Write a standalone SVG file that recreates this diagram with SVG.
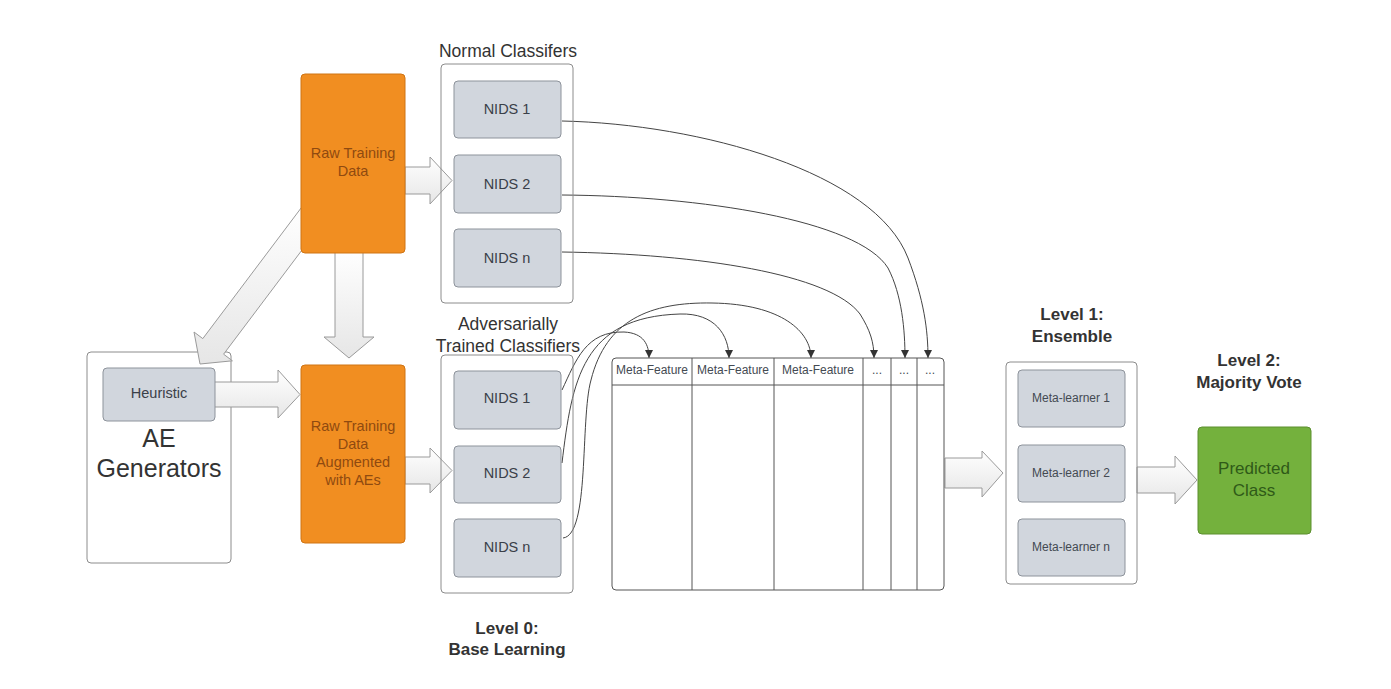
<svg xmlns="http://www.w3.org/2000/svg" width="1391" height="689" viewBox="0 0 1391 689">
<style>
text{font-family:"Liberation Sans",Arial,sans-serif;text-anchor:middle}
.cont{fill:none;stroke:#8c8c8c;stroke-width:1}
.nids{fill:#d1d6dd;stroke:#8d939b;stroke-width:1}
.nt{font-size:14.5px;fill:#3a4048}
.mt{font-size:12px;fill:#444a52}
.ttl{font-size:17.5px;fill:#333}
.lvl{font-size:17px;font-weight:bold;fill:#333}
.org{fill:#f18e21;stroke:#cf7414;stroke-width:1}
.ot{font-size:14.5px;fill:#8f4a10}
.blk{fill:url(#bg);stroke:#9a9a9a;stroke-width:1}
.cv{fill:none;stroke:#444;stroke-width:1;marker-end:url(#ah)}
.tb{fill:none;stroke:#555;stroke-width:1}
</style>
<defs>
<linearGradient id="bg" x1="0" y1="0" x2="0" y2="1">
<stop offset="0" stop-color="#ffffff"/>
<stop offset="1" stop-color="#e6e6e6"/>
</linearGradient>
<marker id="ah" viewBox="0 0 10 10" refX="10" refY="5" markerWidth="8" markerHeight="9" orient="auto" markerUnits="userSpaceOnUse">
<path d="M0,0 L10,5 L0,10 z" fill="#333"/>
</marker>
</defs>
<rect width="1391" height="689" fill="#fff"/>

<g id="ae-generators">
<rect class="cont" x="87" y="352" width="144" height="211" rx="4"/>
<text x="159" y="447" style="font-size:25px;fill:#333">AE</text>
<text x="159" y="477" style="font-size:25px;fill:#333">Generators</text>
</g>

<g id="connectors">
<polygon class="blk" points="303.8,204.4 202.8,338.6 194,332 200,364 232.4,360.8 223.6,354.2 324.6,220"/>
<polygon class="blk" points="335,250 363,250 363,337 374,337 349,358 324,337 335,337"/>
<polygon class="blk" points="405,167 430,167 430,157 452,180.5 430,204 430,194 405,194"/>
<polygon class="blk" points="213,382 278,382 278,370 300,394.5 278,418 278,407 213,407"/>
<polygon class="blk" points="405,457 430,457 430,448 452,470.5 430,493 430,484 405,484"/>
<polygon class="blk" points="945,458 982,458 982,451 1003,473 982,497 982,488 945,488"/>
<polygon class="blk" points="1137,467 1175,467 1175,456 1197,480 1175,504 1175,493 1137,493"/>
<path class="cv" d="M562,121 C700,124 875,172 908,258 C924,300 928,330 928,358"/>
<path class="cv" d="M562,195 C700,196 858,220 888,268 C902,295 905,330 905,358"/>
<path class="cv" d="M562,252 C700,254 830,274 860,314 C870,330 874,342 874,358"/>
<path class="cv" d="M562,390 C576,360 586,331 624,332 C644,333 649,345 649,358"/>
<path class="cv" d="M562,463 C572,380 582,317 680,314 C715,313 729,335 729,358"/>
<path class="cv" d="M563,538 C590,535 580,420 591,380 C606,320 650,302 712,303 C782,304 811,332 811,358"/>
</g>

<g id="heuristic">
<rect class="nids" x="103" y="368" width="112" height="53" rx="4"/>
<text class="nt" x="159" y="398">Heuristic</text>
</g>

<g id="raw-training-data">
<rect class="org" x="301" y="74" width="104" height="179" rx="4"/>
<text class="ot" x="353" y="158">Raw Training</text>
<text class="ot" x="353" y="176">Data</text>
</g>

<g id="raw-augmented">
<rect class="org" x="301" y="365" width="104" height="178" rx="4"/>
<text class="ot" x="353" y="431">Raw Training</text>
<text class="ot" x="353" y="449">Data</text>
<text class="ot" x="353" y="467">Augmented</text>
<text class="ot" x="353" y="485">with AEs</text>
</g>

<g id="normal-classifiers">
<text class="ttl" x="508" y="57">Normal Classifers</text>
<rect class="cont" x="441" y="64" width="132" height="239" rx="4"/>
<rect class="nids" x="454" y="81" width="107" height="57" rx="4"/>
<text class="nt" x="507" y="114">NIDS 1</text>
<rect class="nids" x="454" y="155" width="107" height="58" rx="4"/>
<text class="nt" x="507" y="189">NIDS 2</text>
<rect class="nids" x="454" y="229" width="107" height="58" rx="4"/>
<text class="nt" x="507" y="263">NIDS n</text>
</g>

<g id="adversarial-classifiers">
<text class="ttl" x="508" y="330">Adversarially</text>
<text class="ttl" x="508" y="352">Trained Classifiers</text>
<rect class="cont" x="441" y="355" width="132" height="238" rx="4"/>
<rect class="nids" x="454" y="371" width="107" height="58" rx="4"/>
<text class="nt" x="507" y="403">NIDS 1</text>
<rect class="nids" x="454" y="446" width="107" height="57" rx="4"/>
<text class="nt" x="507" y="478">NIDS 2</text>
<rect class="nids" x="454" y="519" width="107" height="58" rx="4"/>
<text class="nt" x="507" y="552">NIDS n</text>
</g>

<g id="level0-label">
<text class="lvl" x="507" y="634">Level 0:</text>
<text class="lvl" x="507" y="655">Base Learning</text>
</g>

<g id="meta-feature-table">
<rect class="tb" x="612" y="358" width="332" height="232" rx="4"/>
<line class="tb" x1="612" y1="385" x2="944" y2="385"/>
<line class="tb" x1="692" y1="358" x2="692" y2="590"/>
<line class="tb" x1="774" y1="358" x2="774" y2="590"/>
<line class="tb" x1="863" y1="358" x2="863" y2="590"/>
<line class="tb" x1="891" y1="358" x2="891" y2="590"/>
<line class="tb" x1="917" y1="358" x2="917" y2="590"/>
<text class="mt" x="652" y="374">Meta-Feature</text>
<text class="mt" x="733" y="374">Meta-Feature</text>
<text class="mt" x="818" y="374">Meta-Feature</text>
<text class="mt" x="877" y="374">...</text>
<text class="mt" x="904" y="374">...</text>
<text class="mt" x="930" y="374">...</text>
</g>

<g id="ensemble">
<text class="lvl" x="1072" y="320">Level 1:</text>
<text class="lvl" x="1072" y="342">Ensemble</text>
<rect class="cont" x="1006" y="362" width="131" height="222" rx="4"/>
<rect class="nids" x="1018" y="370" width="107" height="57" rx="4"/>
<text class="mt" x="1071" y="402">Meta-learner 1</text>
<rect class="nids" x="1018" y="445" width="107" height="57" rx="4"/>
<text class="mt" x="1071" y="477">Meta-learner 2</text>
<rect class="nids" x="1018" y="519" width="107" height="57" rx="4"/>
<text class="mt" x="1071" y="551">Meta-learner n</text>
</g>

<g id="predicted-class">
<text class="lvl" x="1249" y="366">Level 2:</text>
<text class="lvl" x="1249" y="388">Majority Vote</text>
<rect x="1198" y="427" width="113" height="107" rx="4" fill="#74b13d" stroke="#5c8f2f"/>
<text x="1254" y="474" style="font-size:17px;fill:#2f5a18">Predicted</text>
<text x="1254" y="496" style="font-size:17px;fill:#2f5a18">Class</text>
</g>
</svg>
